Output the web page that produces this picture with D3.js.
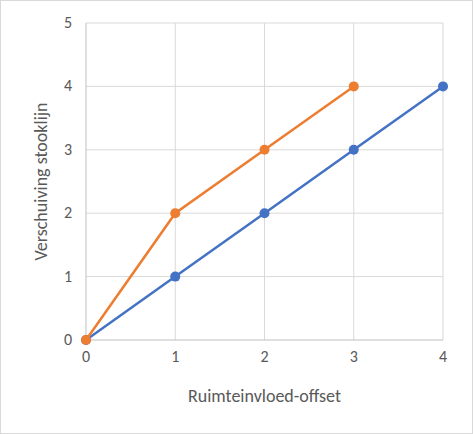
<!DOCTYPE html>
<html>
<head>
<meta charset="utf-8">
<script src="https://cdn.jsdelivr.net/npm/d3@7"></script>
<style>body{margin:0;background:#fff;}</style>
</head>
<body>
<div id="chart-area"></div>
<script>
// Data
const xTicks = [0, 1, 2, 3, 4];
const yTicks = [0, 1, 2, 3, 4, 5];
const blueX = [0, 1, 2, 3, 4];
const blueY = [0, 1, 2, 3, 4];
const orangeX = [0, 1, 2, 3];
const orangeY = [0, 2, 3, 4];

const width = 473, height = 434;
const margin = {left: 86, right: 30, top: 23, bottom: 94};
const font = "Carlito, Lato, 'Open Sans', sans-serif";

const svg = d3.select("#chart-area").append("svg")
	.attr("width", width).attr("height", height);

svg.append("rect")
	.attr("x", 0.5).attr("y", 0.5)
	.attr("width", width - 1).attr("height", height - 1)
	.attr("fill", "white").attr("stroke", "#d9d9d9");

const x = d3.scaleLinear().domain([0, 4]).range([margin.left, width - margin.right]);
const y = d3.scaleLinear().domain([0, 5]).range([height - margin.bottom, margin.top]);

// Gridlines
svg.append("g").selectAll("line").data(xTicks.slice(1)).join("line")
	.attr("x1", d => x(d)).attr("x2", d => x(d))
	.attr("y1", y(0)).attr("y2", y(5))
	.attr("stroke", "#d9d9d9");
svg.append("g").selectAll("line").data(yTicks.slice(1)).join("line")
	.attr("x1", x(0)).attr("x2", x(4))
	.attr("y1", d => y(d)).attr("y2", d => y(d))
	.attr("stroke", "#d9d9d9");

// Axes lines
svg.append("line").attr("x1", x(0)).attr("x2", x(4)).attr("y1", y(0)).attr("y2", y(0)).attr("stroke", "#bfbfbf");
svg.append("line").attr("x1", x(0)).attr("x2", x(0)).attr("y1", y(0)).attr("y2", y(5)).attr("stroke", "#bfbfbf");

// Tick labels
svg.append("g").selectAll("text").data(xTicks).join("text")
	.attr("x", d => x(d)).attr("y", y(0) + 22)
	.attr("text-anchor", "middle").attr("font-family", font).attr("font-size", "16px").attr("fill", "#595959")
	.text(d => d);
svg.append("g").selectAll("text").data(yTicks).join("text")
	.attr("x", x(0) - 14).attr("y", d => y(d) + 5)
	.attr("text-anchor", "end").attr("font-family", font).attr("font-size", "16px").attr("fill", "#595959")
	.text(d => d);

// Axis titles
svg.append("text").attr("x", (x(0) + x(4)) / 2).attr("y", y(0) + 62)
	.attr("text-anchor", "middle").attr("font-family", font).attr("font-size", "18px").attr("fill", "#595959")
	.text("Ruimteinvloed-offset");
svg.append("text").attr("transform", `translate(47,${(y(0) + y(5)) / 2}) rotate(-90)`)
	.attr("text-anchor", "middle").attr("font-family", font).attr("font-size", "18px").attr("fill", "#595959")
	.text("Verschuiving stooklijn");

// Series
function drawSeries(xs, ys, color) {
	const pts = xs.map((d, i) => [d, ys[i]]);
	svg.append("path").datum(pts)
		.attr("d", d3.line().x(d => x(d[0])).y(d => y(d[1])))
		.attr("fill", "none").attr("stroke", color).attr("stroke-width", 2.5);
	svg.append("g").selectAll("circle").data(pts).join("circle")
		.attr("cx", d => x(d[0])).attr("cy", d => y(d[1])).attr("r", 5)
		.attr("fill", color);
}
drawSeries(blueX, blueY, "#4472c4");
drawSeries(orangeX, orangeY, "#ed7d31");
</script>
</body>
</html>
